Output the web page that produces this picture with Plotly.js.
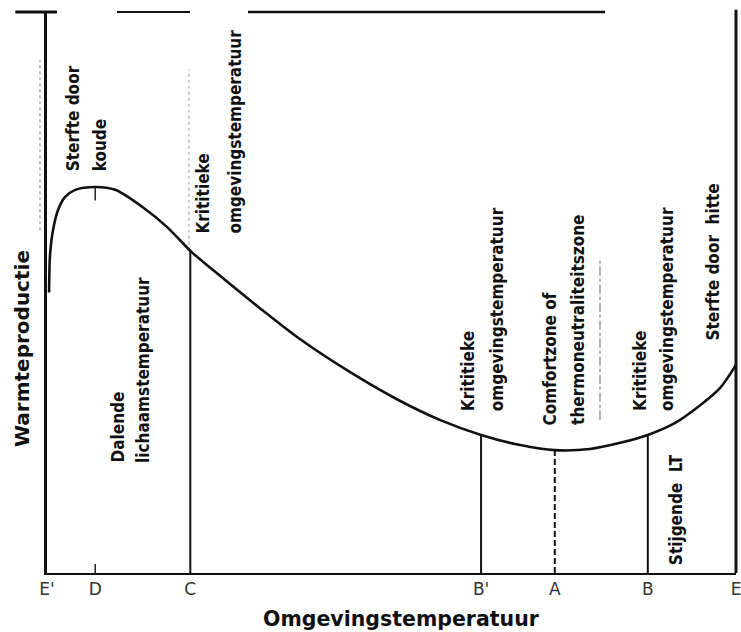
<!DOCTYPE html>
<html>
<head>
<meta charset="utf-8">
<script src="https://cdn.plot.ly/plotly-3.0.1.min.js"></script>
<style>html,body{margin:0;padding:0;background:#fff;}#chart{width:741px;height:632px;}</style>
</head>
<body>
<div id="chart"></div>
<script>
// ---- data (arbitrary units) ----
const tickLabels = ["E'", "D", "C", "B'", "A", "B", "E"];
const tickPos = [0, 7.0, 20.8, 63.0, 73.7, 87.2, 100];

const curveX = [0.3, 0.44, 0.87, 1.6, 2.6, 4.1, 7.0, 9.9, 13.9, 17.4, 21.0, 24.1, 30.9, 36.7, 44.0, 51.2, 57.0, 63.0, 68.7, 73.7, 78.8, 83.2, 87.2, 91.1, 94.8, 97.7, 100];
const curveY = [50.0, 56.7, 61.1, 64.7, 67.0, 68.3, 68.8, 68.3, 65.2, 61.7, 57.2, 54.0, 47.2, 41.7, 35.8, 30.7, 27.3, 24.6, 22.8, 21.9, 22.1, 23.2, 24.6, 26.7, 29.9, 33.0, 37.1];

const zoneX = [20.8, 63.0, 73.7, 87.2];      // C, B', A, B
const zoneTop = [57.5, 24.6, 21.9, 24.6];
const zoneDash = ["solid", "solid", "dash", "solid"];

const peakX = 7.0;   // D
const peakY = 68.8;

// ---- traces ----
const traces = [];
traces.push({
  x: curveX, y: curveY, type: "scatter", mode: "lines",
  line: {color: "#111", width: 2.6, shape: "spline", smoothing: 0.8},
  hoverinfo: "skip", showlegend: false
});
for (let i = 0; i < zoneX.length; i++) {
  traces.push({
    x: [zoneX[i], zoneX[i]], y: [0, zoneTop[i]], type: "scatter", mode: "lines",
    line: {color: "#111", width: 2, dash: zoneDash[i] === "dash" ? "6px,3px" : "solid"},
    hoverinfo: "skip", showlegend: false
  });
}
// small D marks (bottom and at the peak)
traces.push({x: [peakX, peakX], y: [0, 1.6], mode: "lines", line: {color: "#222", width: 1.5}, hoverinfo: "skip", showlegend: false});
traces.push({x: [peakX, peakX], y: [peakY, peakY - 2.4], mode: "lines", line: {color: "#222", width: 1.5}, hoverinfo: "skip", showlegend: false});

// ---- labels ----
const labelFont = {family: "DejaVu Sans Condensed, Liberation Sans Narrow, Open Sans, sans-serif", size: 17, color: "#111", weight: "bold"};
function lab(text, x, y, xshift) {
  return {text: text, x: x, y: y, xref: "x", yref: "y", xshift: xshift, showarrow: false,
          textangle: -90, xanchor: "center", yanchor: "bottom", font: labelFont};
}
const annotations = [
  lab("Sterfte door", tickPos[1], 71.3, -22),
  lab("koude", tickPos[1], 71.3, 5),
  lab("Krititieke", tickPos[2], 60.2, 13),
  lab("omgevingstemperatuur", tickPos[2], 60.2, 45),
  lab("Dalende", tickPos[1], 19.3, 23),
  lab("lichaamstemperatuur", tickPos[1], 19.3, 48),
  lab("Krititieke", tickPos[3], 28.5, -13),
  lab("omgevingstemperatuur", tickPos[3], 28.5, 16),
  lab("Comfortzone of", tickPos[4], 26.0, -5),
  lab("thermoneutraliteitszone", tickPos[4], 26.0, 23),
  lab("Krititieke", tickPos[5], 28.5, -8),
  lab("omgevingstemperatuur", tickPos[5], 28.5, 19),
  lab("Sterfte door  hitte", tickPos[6], 41.0, -23),
  lab("Stijgende  LT", tickPos[5], 1.1, 29),
  {text: "Warmteproductie", x: -0.0363, y: 0.401, xref: "paper", yref: "paper", showarrow: false,
   textangle: -90, xanchor: "center", yanchor: "middle",
   font: {family: "DejaVu Sans, sans-serif", size: 20, color: "#111", weight: "bold"}},
  {text: "Omgevingstemperatuur", x: 0.5138, y: -0.082, xref: "paper", yref: "paper", showarrow: false,
   xanchor: "center", yanchor: "middle",
   font: {family: "DejaVu Sans, sans-serif", size: 20.5, color: "#111", weight: "bold"}}
];

const shapes = [
  // right border (E)
  {type: "line", xref: "paper", yref: "paper", x0: 1, x1: 1, y0: 0, y1: 1.004, line: {color: "#111", width: 3}},
  // broken top border
  {type: "line", xref: "paper", yref: "paper", x0: -0.046, x1: 0.0145, y0: 1, y1: 1, line: {color: "#111", width: 3}},
  {type: "line", xref: "paper", yref: "paper", x0: 0.1016, x1: 0.2075, y0: 1, y1: 1, line: {color: "#111", width: 2}},
  {type: "line", xref: "paper", yref: "paper", x0: 0.2917, x1: 0.81, y0: 1, y1: 1, line: {color: "#111", width: 2.5}},
  // faint scan artefacts
  {type: "line", xref: "paper", yref: "paper", x0: -0.0102, x1: -0.0102, y0: 0.611, y1: 0.914, line: {color: "#aaa", width: 1.5, dash: "dot"}},
  {type: "line", xref: "paper", yref: "paper", x0: 0.206, x1: 0.206, y0: 0.585, y1: 0.897, line: {color: "#bbb", width: 1.5, dash: "dot"}},
  {type: "line", xref: "paper", yref: "paper", x0: 0.8026, x1: 0.8026, y0: 0.273, y1: 0.558, line: {color: "#999", width: 1.5, dash: "dashdot"}}
];

const layout = {
  width: 741, height: 632,
  margin: {l: 47, r: 5, t: 12, b: 59},
  paper_bgcolor: "#fff", plot_bgcolor: "#fff",
  showlegend: false,
  xaxis: {
    range: [0, 100], showgrid: false, zeroline: false,
    showline: true, linecolor: "#111", linewidth: 2,
    tickmode: "array", tickvals: tickPos, ticktext: tickLabels, ticks: "",
    ticklabeloverflow: "allow",
    tickfont: {family: "DejaVu Sans, sans-serif", size: 17, color: "#333"},
    fixedrange: true
  },
  yaxis: {
    range: [0, 100], showgrid: false, zeroline: false,
    showline: true, linecolor: "#111", linewidth: 3.5,
    showticklabels: false, ticks: "", fixedrange: true
  },
  annotations: annotations,
  shapes: shapes
};

Plotly.newPlot("chart", traces, layout, {displayModeBar: false, staticPlot: true});
</script>
</body>
</html>
